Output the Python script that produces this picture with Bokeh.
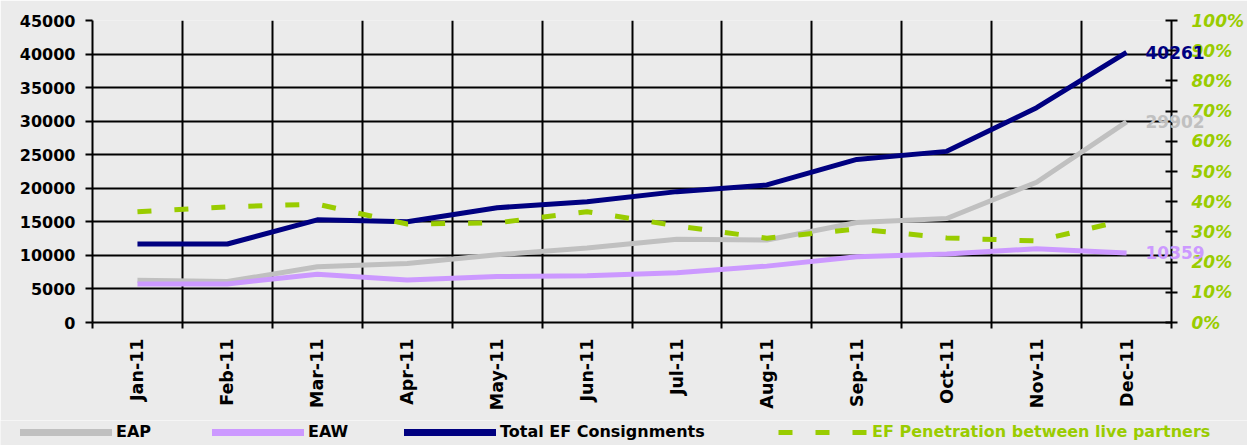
import math
from bokeh.plotting import figure
from bokeh.models import (Range1d, LinearAxis, FixedTicker, NumeralTickFormatter,
                          Grid, Legend, LegendItem)
from bokeh.core.properties import value
from bokeh.embed import file_html
from bokeh.resources import INLINE

months = ["Jan-11", "Feb-11", "Mar-11", "Apr-11", "May-11", "Jun-11",
          "Jul-11", "Aug-11", "Sep-11", "Oct-11", "Nov-11", "Dec-11"]
eap = [6300, 6100, 8300, 8800, 10100, 11100, 12400, 12300, 14900, 15500, 20900, 29902]
eaw = [5750, 5750, 7200, 6350, 6850, 6950, 7400, 8400, 9800, 10200, 11000, 10359]
total_ef = [11700, 11700, 15300, 15000, 17100, 18000, 19500, 20500, 24300, 25500, 32000, 40261]
penetration = [0.367, 0.383, 0.392, 0.326, 0.330, 0.367, 0.320, 0.279, 0.310, 0.280, 0.270, 0.340]
left_ticks = list(range(0, 45001, 5000))
right_ticks = [i / 10 for i in range(11)]

series_names = ["EAP", "EAW", "Total EF Consignments", "EF Penetration between live partners"]

BG = "#EBEBEB"
NAVY = "#000080"
GRAY = "#C0C0C0"
PURPLE = "#CC99FF"
GREEN = "#99CC00"
FONT = "DejaVu Sans"

n = len(months)
xs = list(range(n))
bounds = [i - 0.5 for i in range(n + 1)]

W = 1247
p = figure(width=W, height=420, output_backend="svg", toolbar_location=None,
           x_range=Range1d(-0.5, n - 0.5), y_range=Range1d(0, 45000),
           min_border_left=92, min_border_right=74, min_border_top=20,
           min_border_bottom=98)
p.background_fill_color = BG
p.border_fill_color = BG
p.outline_line_color = None
p.extra_y_ranges = {"pct": Range1d(0, 1)}

# x axis
xax = p.xaxis[0]
xax.ticker = FixedTicker(ticks=xs, minor_ticks=bounds)
xax.major_label_overrides = {i: m for i, m in enumerate(months)}
xax.major_label_orientation = math.pi / 2
xax.major_tick_out = 0
xax.major_tick_in = 0
xax.minor_tick_out = 6
xax.minor_tick_in = 0
xax.minor_tick_line_width = 2
xax.minor_tick_line_color = "black"
xax.axis_line_width = 2
xax.axis_line_color = "black"
xax.major_label_standoff = 10
xax.major_label_text_font = FONT
xax.major_label_text_font_style = "bold"
xax.major_label_text_font_size = "17.5px"
xax.major_label_text_color = "black"

# left axis
yax = p.yaxis[0]
yax.ticker = FixedTicker(ticks=left_ticks)
yax.formatter = NumeralTickFormatter(format="0")
yax.major_tick_out = 7
yax.major_tick_in = 0
yax.major_tick_line_width = 2
yax.major_tick_line_color = "black"
yax.minor_tick_line_color = None
yax.axis_line_width = 2
yax.axis_line_color = "black"
yax.major_label_standoff = 10
yax.major_label_text_font = FONT
yax.major_label_text_font_style = "bold"
yax.major_label_text_font_size = "16px"
yax.major_label_text_color = "black"

# right axis
rax = LinearAxis(y_range_name="pct", ticker=FixedTicker(ticks=right_ticks),
                 formatter=NumeralTickFormatter(format="0%"))
rax.major_tick_out = 6
rax.major_tick_in = 6
rax.major_tick_line_width = 2
rax.major_tick_line_color = "black"
rax.minor_tick_line_color = None
rax.axis_line_width = 2
rax.axis_line_color = "black"
rax.major_label_standoff = 14
rax.major_label_text_font = FONT
rax.major_label_text_font_style = "bold italic"
rax.major_label_text_font_size = "17px"
rax.major_label_text_color = GREEN
p.add_layout(rax, "right")

# grids
p.xgrid.visible = False
p.ygrid.grid_line_color = "black"
p.ygrid.grid_line_width = 2
p.ygrid.ticker = FixedTicker(ticks=left_ticks)
vgrid = Grid(dimension=0, ticker=FixedTicker(ticks=bounds[1:-1]),
             grid_line_color="black", grid_line_width=2)
p.add_layout(vgrid)

# lines
styles = [dict(line_color=GRAY, line_width=5, line_join="round"),
          dict(line_color=PURPLE, line_width=5, line_join="round"),
          dict(line_color=NAVY, line_width=5, line_join="round"),
          dict(line_color=GREEN, line_width=5, line_dash="14 23")]
p.line(xs, eap, **styles[0])
p.line(xs, eaw, **styles[1])
p.line(xs, total_ef, **styles[2])
p.line(xs, penetration, y_range_name="pct", **styles[3])

# end labels (overlay level so they are not clipped at the frame edge)
for vals, col in ((total_ef, NAVY), (eap, GRAY), (eaw, PURPLE)):
    p.text(x=[xs[-1]], y=[vals[-1]], text=[str(vals[-1])], x_offset=19,
           text_font=value(FONT), text_font_style="bold", text_font_size="17px",
           text_color=col, text_baseline="middle", text_align="left",
           level="overlay")

# legend strip: a frameless figure whose plot area is the whole strip;
# its series sit outside its visible y range, so only the legend shows
lf = figure(width=W, height=25, output_backend="svg", toolbar_location=None,
            x_range=Range1d(-0.5, n - 0.5), y_range=Range1d(-2, -1),
            x_axis_type=None, y_axis_type=None,
            min_border_left=0, min_border_right=0, min_border_top=0,
            min_border_bottom=0)
lf.background_fill_color = BG
lf.border_fill_color = BG
lf.outline_line_color = None
lf.xgrid.visible = False
lf.ygrid.visible = False
leg_styles = [dict(st, line_width=7, line_cap="round") for st in styles[:3]] + [styles[3]]
leg_r = [lf.line(xs, vals, **st) for vals, st in
         zip((eap, eaw, total_ef, penetration), leg_styles)]

legA = Legend(items=[LegendItem(label=series_names[i], renderers=[leg_r[i]])
                     for i in range(3)],
              orientation="horizontal", location=(20, 4))
legB = Legend(items=[LegendItem(label=series_names[3], renderers=[leg_r[3]])],
              orientation="horizontal", location=(778, 4))
for lg, tc in ((legA, "black"), (legB, GREEN)):
    lg.background_fill_alpha = 0
    lg.border_line_color = None
    lg.padding = 0
    lg.margin = 0
    lg.spacing = 4
    lg.label_standoff = 4
    lg.glyph_width = 92 if lg is legA else 90
    lg.glyph_height = 18
    lg.label_height = 18
    lg.label_width = 92 if lg is legA else 10
    lg.label_text_font = FONT
    lg.label_text_font_style = "bold"
    lg.label_text_font_size = "16px"
    lg.label_text_color = tc
    lf.add_layout(lg)

open("out.html", "w").write(file_html([p, lf], INLINE))
